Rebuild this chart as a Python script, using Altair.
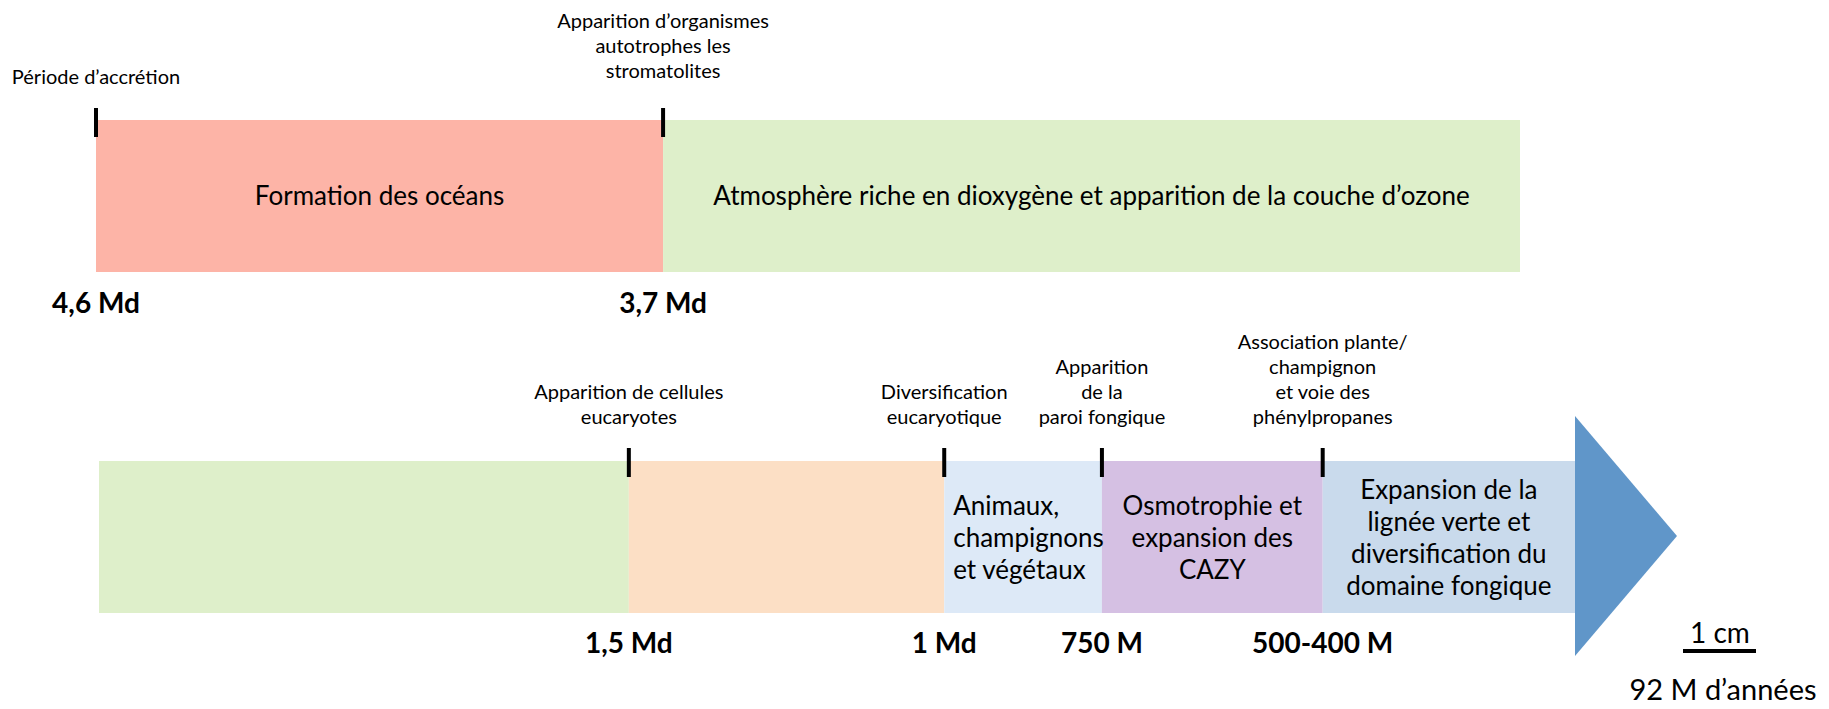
import altair as alt
import pandas as pd

# ---------------- data (millions of years before present) ----------------
period_start = [4600, 3700, 1500, 1000, 750, 400]
period_end = [3700, 1500, 1000, 750, 400, 0]
period_label = [
    "Formation des océans",
    "Atmosphère riche en dioxygène et apparition de la couche d’ozone",
    "",
    "Animaux,\nchampignons\net végétaux",
    "Osmotrophie et\nexpansion des\nCAZY",
    "Expansion de la\nlignée verte et\ndiversification du\ndomaine fongique",
]
period_color = ["#FDB4A7", "#DEEFCA", "#FCDFC5", "#DDE9F7", "#D5C0E3", "#C9DAEC"]

event_time = [4600, 3700, 1500, 1000, 750, 400]
event_label = [
    "Période d’accrétion",
    "Apparition d’organismes\nautotrophes les\nstromatolites",
    "Apparition de cellules\neucaryotes",
    "Diversification\neucaryotique",
    "Apparition\nde la\nparoi fongique",
    "Association plante/\nchampignon\net voie des\nphénylpropanes",
]
date_label = ["4,6 Md", "3,7 Md", "1,5 Md", "1 Md", "750 M", "500-400 M"]

row_break = 2340          # the timeline wraps onto a second line here
present = 0
scale_bar_text = "1 cm"
scale_bar_value = "92 M d’années"

# ---------------- tables built from the lists ----------------
keys = [f"p{i}" for i in range(len(period_start))]
top_rows, bot_rows = [], []
for i, (s, e) in enumerate(zip(period_start, period_end)):
    if s > row_break:
        top_rows.append(dict(key=keys[i], start=s, end=max(e, row_break),
                             mid=(s + max(e, row_break)) / 2, label=period_label[i], idx=i))
    if e < row_break:
        s2 = min(s, row_break)
        bot_rows.append(dict(key=keys[i], start=s2, end=e, mid=(s2 + e) / 2,
                             label=period_label[i] if s <= row_break else "", idx=i))
top_seg = pd.DataFrame(top_rows)
bot_seg = pd.DataFrame(bot_rows)

events = pd.DataFrame(dict(t=event_time, label=event_label, date=date_label,
                           idx=list(range(len(event_time)))))
top_ev = events[events.t > row_break]
bot_ev = events[events.t <= row_break]

FONT = "Lato"
NLINES = "split(datum.label, '\\n').length"
color = alt.Color("key:N", scale=alt.Scale(domain=keys, range=period_color), legend=None)

x_top = alt.Scale(domain=[4600, row_break], range=[88, 1512])
x_bot = alt.Scale(domain=[row_break, present], range=[91, 1567])
ypx = alt.Y("ypx:Q", scale=None, axis=None)

# ---------------- top row ----------------
top_band = alt.Chart(top_seg).mark_rect().encode(
    x=alt.X("start:Q", scale=x_top, axis=None), x2="end:Q",
    y=alt.value(112), y2=alt.value(264), color=color)
top_band_text = alt.Chart(top_seg).transform_filter("datum.label != ''").mark_text(
    font=FONT, fontSize=26, color="black", align="center", baseline="alphabetic").encode(
    x=alt.X("mid:Q", scale=x_top, axis=None), y=alt.value(197), text="label:N")
top_ticks = alt.Chart(top_ev).mark_rule(color="black", strokeWidth=4).encode(
    x=alt.X("t:Q", scale=x_top, axis=None), y=alt.value(100), y2=alt.value(129))
top_dates = alt.Chart(top_ev).mark_text(
    font=FONT, fontSize=28, fontWeight="bold", color="black", align="center",
    baseline="alphabetic").encode(
    x=alt.X("t:Q", scale=x_top, axis=None), y=alt.value(305), text="date:N")
top_ev_first = alt.Chart(top_ev).transform_filter("datum.idx == 0").mark_text(
    font=FONT, fontSize=20, color="black", align="center", baseline="alphabetic").encode(
    x=alt.X("t:Q", scale=x_top, axis=None), y=alt.value(76), text="label:N")
top_ev_rest = alt.Chart(top_ev).transform_filter("datum.idx > 0").transform_calculate(
    ypx=f"70 - ({NLINES} - 1) * 25").mark_text(
    font=FONT, fontSize=20, color="black", align="center", baseline="alphabetic",
    lineBreak="\n", lineHeight=25).encode(
    x=alt.X("t:Q", scale=x_top, axis=None), y=ypx, text="label:N")

top = alt.layer(top_band, top_band_text, top_ticks, top_dates, top_ev_first, top_ev_rest)

# ---------------- bottom row ----------------
bot_band = alt.Chart(bot_seg).mark_rect().encode(
    x=alt.X("start:Q", scale=x_bot, axis=None), x2="end:Q",
    y=alt.value(453), y2=alt.value(605), color=color)
arrow = alt.Chart(pd.DataFrame(dict(t=[present]))).mark_point(
    shape="M 0 -1 L 0.85 0 L 0 1 Z", filled=True, opacity=1, size=57600,
    color="#6096C9", strokeWidth=0).encode(
    x=alt.X("t:Q", scale=x_bot, axis=None), y=alt.value(528))
bot_text_center = alt.Chart(bot_seg).transform_filter(
    "datum.label != '' && datum.idx != 3").transform_calculate(
    ypx=f"539 - ({NLINES} - 1) * 16").mark_text(
    font=FONT, fontSize=26, color="black", align="center", baseline="alphabetic",
    lineBreak="\n", lineHeight=32).encode(
    x=alt.X("mid:Q", scale=x_bot, axis=None), y=ypx, text="label:N")
bot_text_left = alt.Chart(bot_seg).transform_filter("datum.idx == 3").transform_calculate(
    ypx=f"539 - ({NLINES} - 1) * 16").mark_text(
    font=FONT, fontSize=26, color="black", align="left", baseline="alphabetic",
    lineBreak="\n", lineHeight=32, dx=9).encode(
    x=alt.X("start:Q", scale=x_bot, axis=None), y=ypx, text="label:N")
bot_ticks = alt.Chart(bot_ev).mark_rule(color="black", strokeWidth=4).encode(
    x=alt.X("t:Q", scale=x_bot, axis=None), y=alt.value(440), y2=alt.value(469))
bot_dates = alt.Chart(bot_ev).mark_text(
    font=FONT, fontSize=28, fontWeight="bold", color="black", align="center",
    baseline="alphabetic").encode(
    x=alt.X("t:Q", scale=x_bot, axis=None), y=alt.value(645), text="date:N")
bot_ev_text = alt.Chart(bot_ev).transform_calculate(
    ypx=f"416 - ({NLINES} - 1) * 25").mark_text(
    font=FONT, fontSize=20, color="black", align="center", baseline="alphabetic",
    lineBreak="\n", lineHeight=25).encode(
    x=alt.X("t:Q", scale=x_bot, axis=None), y=ypx, text="label:N")

bottom = alt.layer(bot_band, arrow, bot_text_center, bot_text_left, bot_ticks,
                   bot_dates, bot_ev_text)

# ---------------- scale bar ----------------
sb = pd.DataFrame(dict(a=[scale_bar_text], b=[scale_bar_value]))
sb_text = alt.Chart(sb).mark_text(font=FONT, fontSize=28, color="black",
                                  align="center", baseline="alphabetic").encode(
    x=alt.value(1712), y=alt.value(635), text="a:N")
sb_rule = alt.Chart(sb).mark_rule(color="black", strokeWidth=4).encode(
    x=alt.value(1675), x2=alt.value(1748), y=alt.value(643))
sb_value = alt.Chart(sb).mark_text(font=FONT, fontSize=29, color="black",
                                   align="center", baseline="alphabetic").encode(
    x=alt.value(1715), y=alt.value(692), text="b:N")
legend = alt.layer(sb_text, sb_rule, sb_value)

chart = alt.layer(top, bottom, legend).resolve_scale(x="independent").properties(
    width=1813, height=693, autosize=alt.AutoSizeParams(type="none"), padding=0,
    background="white").configure_view(stroke=None)

chart.save("out.html", embed_options={"renderer": "svg", "actions": False})
